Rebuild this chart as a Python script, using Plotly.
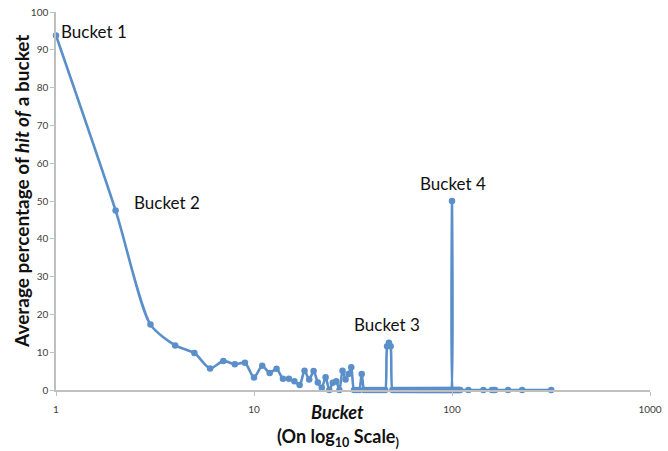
import math
import plotly.graph_objects as go

# Bucket index (log10 x axis) and average hit percentage
buckets = list(range(1, 111)) + [121, 144, 159, 162, 165, 192, 226, 317]

hits_1_35 = [93.8, 47.5, 17.3, 11.8, 9.8, 5.7, 7.7, 6.8, 7.2, 3.3,
             6.4, 4.5, 5.6, 3.0, 3.0, 2.3, 1.3, 5.1, 2.8, 5.0,
             2.0, 0.6, 3.4, 0.0, 1.9, 2.3, 0.0, 5.1, 2.8, 4.2,
             6.0, 0.0, 0.0, 0.0, 4.2]
hits_36_49 = [0.0] * 11 + [11.6, 12.5, 11.6]
hits_50_110 = [0.0] * 50 + [50.0] + [0.0] * 10
hits_tail = [0.0] * 8
hits = hits_1_35 + hits_36_49 + hits_50_110 + hits_tail

y_ticks = list(range(0, 101, 10))
x_ticks = [1, 10, 100, 1000]

labels = ["Bucket 1", "Bucket 2", "Bucket 3", "Bucket 4"]
label_x = [1.03, 2.42, 31.3, 67.3]
label_y = [91.5, 46.3, 14.0, 51.3]

BLUE = "#5B8FCA"
FONT = "Lato"

fig = go.Figure()
fig.add_trace(go.Scatter(
    x=buckets, y=hits, mode="lines+markers",
    line=dict(color=BLUE, width=2.6, shape="spline", smoothing=0.7),
    marker=dict(color=BLUE, size=6.5),
    cliponaxis=False,
    showlegend=False, hoverinfo="x+y",
))

for t, lx, ly in zip(labels, label_x, label_y):
    fig.add_annotation(x=math.log10(lx), y=ly, xref="x", yref="y", text=t,
                       showarrow=False, xanchor="left", yanchor="bottom",
                       font=dict(family=FONT, size=17, color="#111111"))

fig.add_annotation(x=(21 - 56) / 594, y=(390 - 192) / 378, xref="paper", yref="paper",
                   xanchor="center", yanchor="middle",
                   text="<b>Average percentage of <i>hit of</i> a bucket</b>",
                   textangle=-90, showarrow=False,
                   font=dict(family=FONT, size=19, color="#111111"))
fig.add_annotation(x=(337.5 - 56) / 594, y=-(412 - 390) / 378, xref="paper", yref="paper",
                   text="<b><i>Bucket</i></b>", showarrow=False, yanchor="middle",
                   font=dict(family=FONT, size=18, color="#111111"))
fig.add_annotation(x=(338 - 56) / 594, y=-(437 - 390) / 378, xref="paper", yref="paper",
                   text="<b>(On log<sub>10</sub> Scale<sub>)</sub></b>", showarrow=False,
                   yanchor="middle",
                   font=dict(family=FONT, size=18, color="#111111"))

fig.update_layout(
    width=668, height=451, autosize=False,
    margin=dict(l=56, r=18, t=12, b=61, autoexpand=False),
    paper_bgcolor="white", plot_bgcolor="white",
    font=dict(family=FONT, color="#404040"),
)
fig.update_xaxes(
    type="log", range=[0, 3], tickvals=x_ticks, ticktext=[str(v) for v in x_ticks],
    showgrid=False, zeroline=False, showline=True, linecolor="#BFBFBF", linewidth=1.5,
    ticks="outside", ticklen=4, tickcolor="#BFBFBF", ticklabelstandoff=5,
    tickfont=dict(size=10, color="#404040"),
)
fig.update_yaxes(
    range=[0, 100], tickvals=y_ticks, showgrid=False, zeroline=False,
    showline=True, linecolor="#BFBFBF", linewidth=1.5,
    ticks="outside", ticklen=4, tickcolor="#BFBFBF",
    tickfont=dict(size=10, color="#404040"),
)

fig.write_html("out.html", config={"displayModeBar": False},
               post_script="document.body.style.margin='0';"
                           "document.body.style.overflow='hidden';")
